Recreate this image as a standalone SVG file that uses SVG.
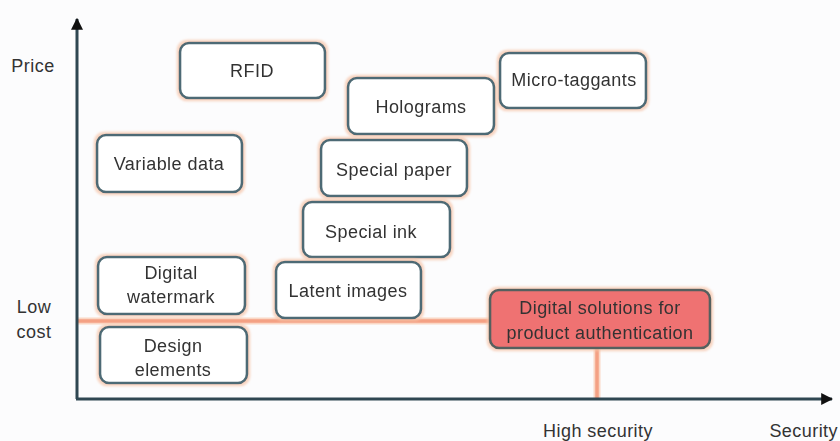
<svg xmlns="http://www.w3.org/2000/svg" width="840" height="441" viewBox="0 0 840 441">
<defs>
<style>
.box{fill:#ffffff;stroke:#4d6a74;stroke-width:2.6}
.hi{fill:#ef7272;stroke:#55605f;stroke-width:2.6}
.t{font-family:"Liberation Sans",Arial,sans-serif;font-size:18px;letter-spacing:0.45px;fill:#333333;text-anchor:middle}
.axis{stroke:#2f4752;stroke-width:3;fill:none}
.ref{stroke:#f4a184;stroke-width:3.5;fill:none}
.refglow{stroke:#fad8c6;stroke-width:7;fill:none}
</style>
<filter id="glow" x="-10%" y="-15%" width="120%" height="130%">
<feMorphology in="SourceAlpha" operator="dilate" radius="2" result="d"/>
<feGaussianBlur in="d" stdDeviation="1.2" result="b"/>
<feFlood flood-color="#f6c4a8" flood-opacity="0.7"/>
<feComposite in2="b" operator="in" result="g"/>
<feMerge><feMergeNode in="g"/><feMergeNode in="SourceGraphic"/></feMerge>
</filter>
<marker id="ah" viewBox="0 0 10 10" refX="9" refY="5" markerWidth="4" markerHeight="4" orient="auto" markerUnits="strokeWidth">
<path d="M0,0 L10,5 L0,10 z" fill="#111111"/>
</marker>
</defs>
<rect width="840" height="441" fill="#fcfcfd"/>
<g id="connectors">
<line class="refglow" x1="77" y1="321" x2="492" y2="321"/>
<line class="refglow" x1="597" y1="348" x2="597" y2="399"/>
<line class="ref" x1="77" y1="321" x2="492" y2="321"/>
<line class="ref" x1="597" y1="348" x2="597" y2="399"/>
<line class="axis" x1="77" y1="399" x2="77" y2="19" marker-end="url(#ah)"/>
<line class="axis" x1="76" y1="399" x2="832" y2="399" marker-end="url(#ah)"/>
</g>
<g id="labels">
<text class="t" x="33" y="72">Price</text>
<text class="t" x="34" y="313">Low</text>
<text class="t" x="34" y="338">cost</text>
<text class="t" x="598" y="437">High security</text>
<text class="t" x="838" y="437" style="text-anchor:end">Security</text>
</g>
<g id="rfid" filter="url(#glow)">
<rect class="box" x="180" y="43" width="145" height="55" rx="9"/>
<text class="t" x="252" y="77">RFID</text>
</g>
<g id="variable-data" filter="url(#glow)">
<rect class="box" x="97" y="135" width="145" height="57" rx="9"/>
<text class="t" x="169" y="170">Variable data</text>
</g>
<g id="micro-taggants" filter="url(#glow)">
<rect class="box" x="500" y="53" width="146" height="55" rx="9"/>
<text class="t" x="574" y="86">Micro-taggants</text>
</g>
<g id="holograms" filter="url(#glow)">
<rect class="box" x="348" y="78" width="146" height="56" rx="9"/>
<text class="t" x="421" y="113">Holograms</text>
</g>
<g id="special-paper" filter="url(#glow)">
<rect class="box" x="321" y="140" width="146" height="56" rx="9"/>
<text class="t" x="394" y="176">Special paper</text>
</g>
<g id="special-ink" filter="url(#glow)">
<rect class="box" x="303" y="202" width="147" height="55" rx="9"/>
<text class="t" x="371" y="238">Special ink</text>
</g>
<g id="latent-images" filter="url(#glow)">
<rect class="box" x="276" y="262" width="145" height="56" rx="9"/>
<text class="t" x="348" y="297">Latent images</text>
</g>
<g id="digital-watermark" filter="url(#glow)">
<rect class="box" x="98" y="257" width="147" height="57" rx="9"/>
<text class="t" x="171" y="279">Digital</text>
<text class="t" x="171" y="303">watermark</text>
</g>
<g id="design-elements" filter="url(#glow)">
<rect class="box" x="100" y="327" width="147" height="56" rx="9"/>
<text class="t" x="173" y="352">Design</text>
<text class="t" x="173" y="376">elements</text>
</g>
<g id="digital-solutions" filter="url(#glow)">
<rect class="hi" x="490" y="290" width="220" height="58" rx="9"/>
<text class="t" x="600" y="314">Digital solutions for</text>
<text class="t" x="600" y="339">product authentication</text>
</g>
</svg>
